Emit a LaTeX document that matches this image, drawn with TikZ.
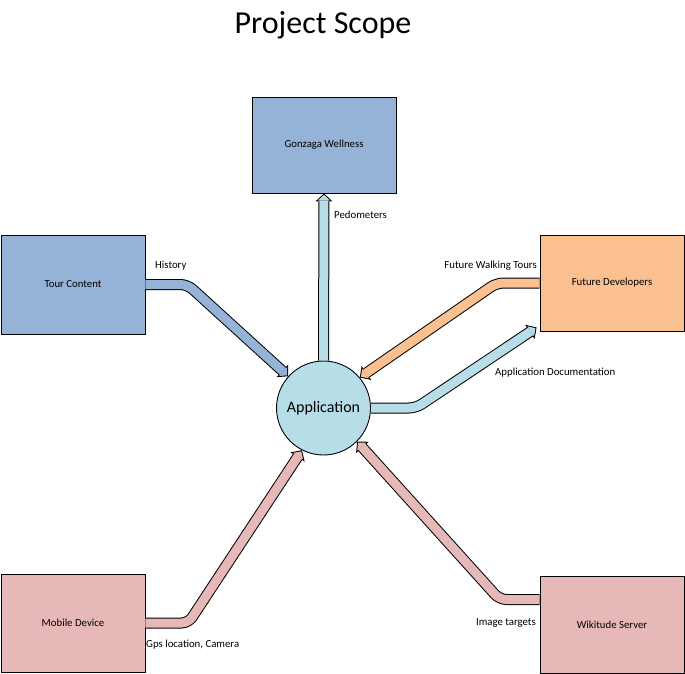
\documentclass[tikz,border=0pt]{standalone}
\usepackage{fontspec}
\setmainfont{Carlito}
\usetikzlibrary{arrows.meta}
\definecolor{boxblue}{HTML}{95B3D7}
\definecolor{appblue}{HTML}{B7DDE8}
\definecolor{boxorange}{HTML}{FAC090}
\definecolor{boxpink}{HTML}{E6B9B8}
\newcommand\blockarrow[2]{%
  \draw[outerarr] #2;
  \draw[innerarr, color=#1] #2;}
\begin{document}
\begin{tikzpicture}[x=1pt,y=-1pt,
  box/.style={draw=black, line width=0.9pt, inner sep=2pt, minimum width=144pt,
    minimum height=96pt, font=\fontsize{10.8}{12}\selectfont, align=center},
  lbl/.style={font=\fontsize{10.8}{12}\selectfont, inner sep=0pt},
  outerarr/.style={draw=black, line width=11pt, rounded corners=7pt,
    -{Triangle[width=17pt,length=8pt,line width=0pt]}},
  innerarr/.style={line width=9pt, rounded corners=7pt, shorten >=1.37pt,
    -{Triangle[width=12pt,length=5.6pt,line width=0pt]}}]
\useasboundingbox (0,0) rectangle (685,674);
\node[font=\fontsize{32}{36}\selectfont, inner sep=0pt] (title) at (323,25) {Project Scope};
\node[box, fill=boxblue] (gw) at (324,145) {Gonzaga Wellness};
\node[box, fill=boxblue, minimum height=99pt] (tour) at (73,284.5) {Tour Content};
\node[box, fill=boxorange] (fd) at (612,283) {Future Developers};
\node[box, fill=boxpink, minimum height=98pt] (md) at (73,623) {Mobile Device};
\node[box, fill=boxpink, minimum height=97pt] (ws) at (612,624.5) {Wikitude Server};
\node[circle, draw=black, line width=0.9pt, fill=appblue, minimum size=94pt, inner sep=0pt,
  font=\fontsize{16}{18}\selectfont] (app) at (323.5,408) {Application};
\coordinate (wsout) at ([yshift=25pt]ws.west);
\coordinate (docend) at ([xshift=-3pt,yshift=4pt]fd.south west);
\blockarrow{appblue}{(app.north) -- (gw.south)}
\blockarrow{boxblue}{(tour.east) -- ++(42,0) -- (app.138)}
\blockarrow{boxorange}{(fd.west) -- ++(-43,0) -- (app.40)}
\blockarrow{appblue}{(app.east) -- ++(45,0) -- (docend)}
\blockarrow{boxpink}{(md.east) -- ++(43,0) -- (app.-117)}
\blockarrow{boxpink}{(wsout) -- ++(-40,0) -- (app.-45)}
\node[lbl, anchor=west] (lped) at (334,215) {Pedometers};
\node[lbl, anchor=west] (lhist) at (155,266) {History};
\node[lbl, anchor=east] (lfwt) at (537,266) {Future Walking Tours};
\node[lbl, anchor=west] (ldoc) at (495,373) {Application Documentation};
\node[lbl, anchor=west] (lgps) at (146,645) {Gps location, Camera};
\node[lbl, anchor=east] (limg) at (536,623) {Image targets};
\end{tikzpicture}
\end{document}
